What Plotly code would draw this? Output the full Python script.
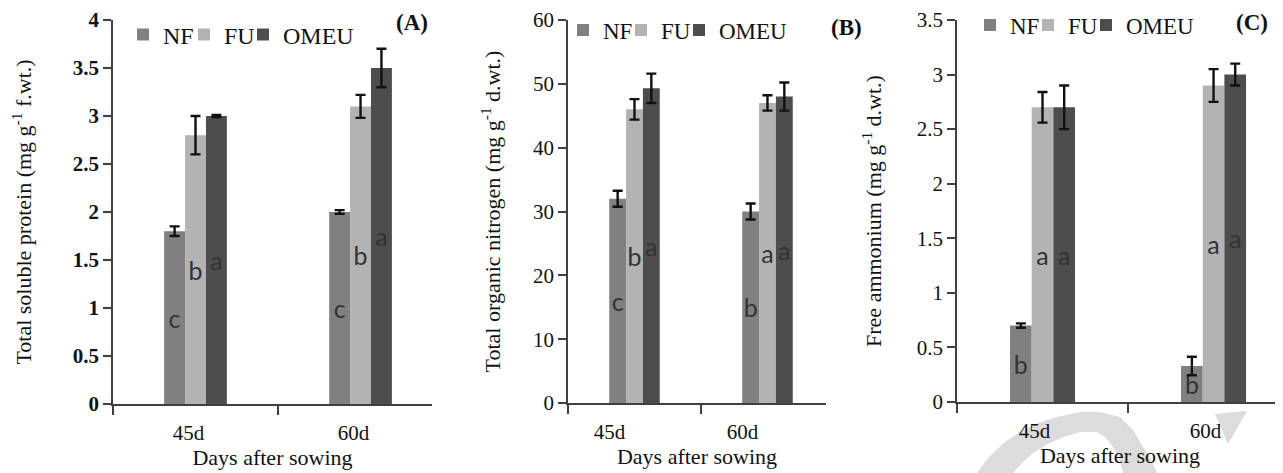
import plotly.graph_objects as go

# ---------------- data ----------------
days = ["45d", "60d"]
treatments = ["NF", "FU", "OMEU"]

protein = {"NF": [1.8, 2.0], "FU": [2.8, 3.1], "OMEU": [3.0, 3.5]}
protein_err = {"NF": [0.05, 0.02], "FU": [0.2, 0.12], "OMEU": [0.01, 0.2]}
protein_sig = {"NF": ["c", "c"], "FU": ["b", "b"], "OMEU": ["a", "a"]}

nitrogen = {"NF": [32, 30], "FU": [46, 47], "OMEU": [49.3, 48]}
nitrogen_err = {"NF": [1.25, 1.25], "FU": [1.6, 1.2], "OMEU": [2.3, 2.2]}
nitrogen_sig = {"NF": ["c", "b"], "FU": ["b", "a"], "OMEU": ["a", "a"]}

ammonium = {"NF": [0.7, 0.33], "FU": [2.7, 2.9], "OMEU": [2.7, 3.0]}
ammonium_err = {"NF": [0.02, 0.085], "FU": [0.14, 0.15], "OMEU": [0.2, 0.1]}
ammonium_sig = {"NF": ["b", "b"], "FU": ["a", "a"], "OMEU": ["a", "a"]}

colors = {"NF": "#808080", "FU": "#b3b3b3", "OMEU": "#4d4d4d"}

# ---------------- layout helpers ----------------
# the page body has an 8 px default margin, so the figure is placed 8 px in
OFF = 8
W, H = 1283 - OFF, 473 - OFF
def px(x):
    return (x - OFF) / W
def py(y):
    return 1 - (y - OFF) / H

SERIF = "Liberation Serif"
AX = "#404040"

# legend entry placement per panel: (left edges of entries), text centre y, font size
panels = [
    dict(vals=protein, err=protein_err, sig=protein_sig, xa="x", ya="y",
         leg_x=[123, 184, 243], leg_y=35, leg_size=24),
    dict(vals=nitrogen, err=nitrogen_err, sig=nitrogen_sig, xa="x2", ya="y2",
         leg_x=[563, 621, 679], leg_y=30, leg_size=23),
    dict(vals=ammonium, err=ammonium_err, sig=ammonium_sig, xa="x3", ya="y3",
         leg_x=[970, 1028, 1086], leg_y=25, leg_size=23),
]

fig = go.Figure()
legends = {}
n = 0
for p in panels:
    for i, t in enumerate(treatments):
        n += 1
        lname = "legend" if n == 1 else "legend%d" % n
        legends[lname] = dict(
            orientation="h", xanchor="left", yanchor="middle",
            x=px(p["leg_x"][i]), y=py(p["leg_y"]),
            bgcolor="rgba(0,0,0,0)",
            font=dict(family=SERIF, size=p["leg_size"], color="#111111"),
            itemwidth=30,
        )
        fig.add_trace(go.Bar(
            x=days, y=p["vals"][t], name=t,
            marker=dict(color=colors[t], line=dict(width=0)),
            error_y=dict(type="data", array=p["err"][t], visible=True,
                         color="#111111", thickness=2.4, width=5),
            text=p["sig"][t], textposition="inside", insidetextanchor="middle",
            textangle=0, constraintext="none",
            insidetextfont=dict(family="Lato", size=25, color="#333333"),
            xaxis=p["xa"], yaxis=p["ya"], legend=lname,
        ))

def xaxis(d0, d1, rmax, anchor, shift):
    return dict(domain=[px(d0), px(d1)], range=[-0.5, rmax], type="category",
                anchor=anchor, showline=True, linecolor=AX, linewidth=1.5,
                ticks="outside", tickson="boundaries", ticklen=9, tickwidth=1.5,
                tickcolor=AX, showgrid=False, zeroline=False,
                tickfont=dict(family=SERIF, size=21, color="#111111"),
                ticklabelstandoff=9, ticklabelshift=shift,
                title=dict(text="Days after sowing", standoff=4,
                           font=dict(family=SERIF, size=22, color="#111111")))

def yaxis(rng, dtick, top, bottom, anchor, title, standoff, bold=False):
    return dict(domain=[py(bottom), py(top)], range=rng, dtick=dtick, anchor=anchor,
                showline=True, linecolor=AX, linewidth=1.5, ticks="outside",
                ticklen=8, tickwidth=1.5, tickcolor=AX, showgrid=False,
                zeroline=False,
                tickfont=dict(family=SERIF, size=21, color="#111111",
                              weight="bold" if bold else "normal"),
                title=dict(text=title, standoff=standoff,
                           font=dict(family=SERIF, size=22, color="#111111")))

fig.update_layout(
    width=W, height=H,
    margin=dict(l=0, r=0, t=0, b=0, autoexpand=False),
    paper_bgcolor="white", plot_bgcolor="white",
    barmode="group", bargap=0.62, bargroupgap=0,
    xaxis=xaxis(113, 432, 1.433, "y", -7),
    xaxis2=xaxis(568, 826, 1.44, "y2", -25),
    xaxis3=xaxis(957, 1283, 1.406, "y3", -8),
    yaxis=yaxis([0, 4], 0.5, 20, 404, "x",
                "Total soluble protein (mg g<sup>-1</sup> f.wt.)", 46, bold=True),
    yaxis2=yaxis([0, 60], 10, 20, 403, "x2",
                 "Total organic nitrogen (mg g<sup>-1</sup> d.wt.)", 26),
    yaxis3=yaxis([0, 3.5], 0.5, 20, 402, "x3",
                 "Free ammonium (mg g<sup>-1</sup> d.wt.)", 29),
    showlegend=True,
    **legends,
)

for lab, x, y in [("(A)", 412, 22), ("(B)", 846, 27), ("(C)", 1252, 23)]:
    fig.add_annotation(text="<b>%s</b>" % lab, x=px(x), y=py(y), xref="paper", yref="paper",
                       xanchor="center", yanchor="middle", showarrow=False,
                       font=dict(family=SERIF, size=23, color="#111111"))

# faint watermark shapes (document decoration)
def path(points):
    s = "M %f,%f " % (px(points[0][0]), py(points[0][1]))
    s += " ".join("L %f,%f" % (px(a), py(b)) for a, b in points[1:])
    return s + " Z"

arc = [(977, 473), (985, 462), (993, 453), (1005, 442), (1020, 432), (1038, 423),
       (1057, 417), (1080, 412), (1100, 412), (1120, 417), (1133, 430), (1143, 447),
       (1151, 460), (1157, 473), (1123, 473), (1119, 458), (1113, 447), (1105, 437),
       (1097, 432), (1080, 432), (1063, 437), (1048, 444), (1033, 453), (1022, 463),
       (1013, 473)]
tri = [(1215, 414), (1247, 411), (1228, 444)]
for pts in (arc, tri):
    fig.add_shape(type="path", path=path(pts), xref="paper", yref="paper",
                  fillcolor="#dcdcdc", line=dict(width=0), layer="below")

fig.write_html("out.html")
